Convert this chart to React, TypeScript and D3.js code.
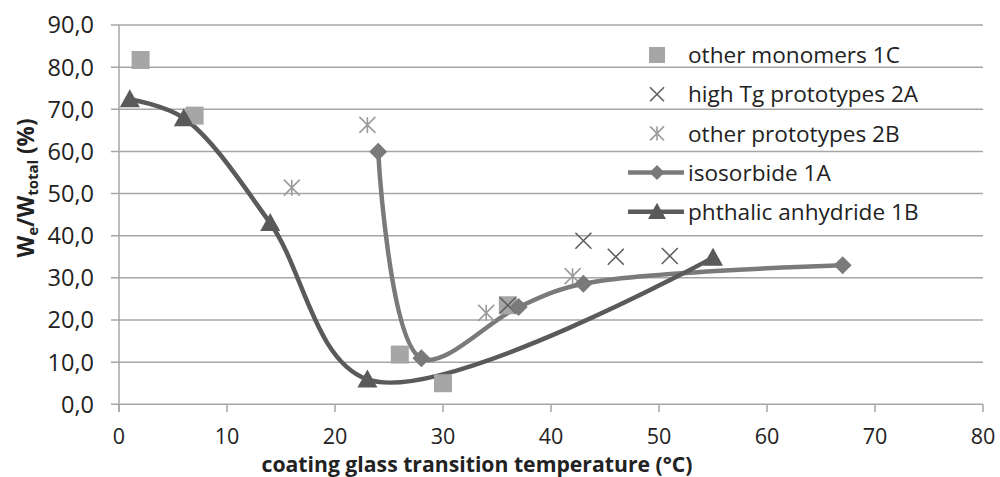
import React from "react";
import * as d3 from "d3";

const xTicks = [0, 10, 20, 30, 40, 50, 60, 70, 80];
const yTicks = [0, 10, 20, 30, 40, 50, 60, 70, 80, 90];

const otherMonomers1C = [
  { x: 2, y: 81.7 },
  { x: 7, y: 68.5 },
  { x: 26, y: 11.8 },
  { x: 30, y: 5.0 },
  { x: 36, y: 23.5 },
];
const highTg2A = [
  { x: 36, y: 23.5 },
  { x: 43, y: 38.8 },
  { x: 46, y: 35.0 },
  { x: 51, y: 35.2 },
];
const otherPrototypes2B = [
  { x: 16, y: 51.4 },
  { x: 23, y: 66.3 },
  { x: 34, y: 21.7 },
  { x: 42, y: 30.4 },
];
const isosorbide1A = [
  { x: 24, y: 59.9 },
  { x: 28, y: 10.9 },
  { x: 37, y: 23.1 },
  { x: 43, y: 28.6 },
  { x: 67, y: 33.0 },
];
const phthalic1B = [
  { x: 1, y: 72.4 },
  { x: 6, y: 67.9 },
  { x: 14, y: 43.0 },
  { x: 23, y: 5.9 },
  { x: 55, y: 34.8 },
];

const legendLabels = [
  "other monomers 1C",
  "high Tg prototypes 2A",
  "other prototypes 2B",
  "isosorbide 1A",
  "phthalic anhydride 1B",
];

const C_SQ = "#a6a6a6";
const C_X = "#5f5f5f";
const C_AST = "#9c9c9c";
const C_ISO = "#7a7a7a";
const C_PHT = "#5a5a5a";
const C_GRID = "#a6a6a6";
const FONT = "'Open Sans', sans-serif";

function Square({ cx, cy, s = 18 }) {
  return <rect x={cx - s / 2} y={cy - s / 2} width={s} height={s} fill={C_SQ} />;
}
function Cross({ cx, cy, s = 16 }) {
  const h = s / 2;
  return (
    <path
      d={`M${cx - h},${cy - h}L${cx + h},${cy + h}M${cx - h},${cy + h}L${cx + h},${cy - h}`}
      stroke={C_X}
      strokeWidth={1.6}
      fill="none"
    />
  );
}
function Asterisk({ cx, cy, s = 16 }) {
  const h = s / 2;
  return (
    <path
      d={`M${cx - h},${cy - h}L${cx + h},${cy + h}M${cx - h},${cy + h}L${cx + h},${cy - h}M${cx},${cy - h}L${cx},${cy + h}`}
      stroke={C_AST}
      strokeWidth={1.6}
      fill="none"
    />
  );
}
function Diamond({ cx, cy, s = 18 }) {
  const h = s / 2;
  return (
    <path
      d={`M${cx},${cy - h}L${cx + h},${cy}L${cx},${cy + h}L${cx - h},${cy}Z`}
      fill={C_ISO}
    />
  );
}
function Triangle({ cx, cy, s = 20 }) {
  const h = s / 2;
  return (
    <path
      d={`M${cx},${cy - h}L${cx + h},${cy + h * 0.8}L${cx - h},${cy + h * 0.8}Z`}
      fill={C_PHT}
    />
  );
}

export default function App() {
  const W = 1000;
  const H = 477;
  const x = d3.scaleLinear().domain([0, 80]).range([119, 983]);
  const y = d3.scaleLinear().domain([0, 90]).range([404.3, 25]);

  const line = d3
    .line<{ x: number; y: number }>()
    .x((d) => x(d.x))
    .y((d) => y(d.y))
    .curve(d3.curveCatmullRom.alpha(0.5));

  const fmt = (v: number) => v.toFixed(1).replace(".", ",");

  const legX = 657;
  const legTextX = 688;
  const legY0 = 55;
  const legDy = 39.2;

  return (
    <svg
      width={W}
      height={H}
      style={{ position: "absolute", left: 0, top: 0 }}
      fontFamily={FONT}
    >
      <rect width={W} height={H} fill="#fff" />
      {/* gridlines */}
      {yTicks.map((t) => (
        <line
          key={"g" + t}
          x1={111}
          x2={983}
          y1={y(t)}
          y2={y(t)}
          stroke={C_GRID}
          strokeWidth={1.5}
        />
      ))}
      {/* y axis line */}
      <line x1={119} x2={119} y1={y(90)} y2={412} stroke={C_GRID} strokeWidth={1.5} />
      {/* x ticks */}
      {xTicks.map((t) => (
        <line
          key={"xt" + t}
          x1={x(t)}
          x2={x(t)}
          y1={y(0)}
          y2={412}
          stroke={C_GRID}
          strokeWidth={1.5}
        />
      ))}
      {/* y tick labels */}
      {yTicks.map((t) => (
        <text
          key={"yl" + t}
          x={94}
          y={y(t)}
          dy="0.36em"
          textAnchor="end"
          fontSize={23.5}
          fill="#222"
        >
          {fmt(t)}
        </text>
      ))}
      {/* x tick labels */}
      {xTicks.map((t) => (
        <text
          key={"xl" + t}
          x={x(t)}
          y={444}
          textAnchor="middle"
          fontSize={21.5}
          fill="#222"
        >
          {t}
        </text>
      ))}
      {/* axis titles */}
      <text
        x={477}
        y={472}
        textAnchor="middle"
        fontSize={21.2}
        fontWeight="bold"
        fill="#222"
      >
        coating glass transition temperature (°C)
      </text>
      <text
        transform={`translate(34,188) rotate(-90)`}
        textAnchor="middle"
        fontSize={22.5}
        fontWeight="bold"
        fill="#222"
      >
        W
        <tspan fontSize={15} dy={4}>e</tspan>
        <tspan dy={-4}>/W</tspan>
        <tspan fontSize={15} dy={4}>total</tspan>
        <tspan dy={-4}> (%)</tspan>
      </text>

      {/* lines */}
      <path d={line(isosorbide1A) || ""} fill="none" stroke={C_ISO} strokeWidth={4.5} />
      <path d={line(phthalic1B) || ""} fill="none" stroke={C_PHT} strokeWidth={4.5} />

      {/* markers */}
      {otherMonomers1C.map((d, i) => (
        <Square key={"s" + i} cx={x(d.x)} cy={y(d.y)} />
      ))}
      {highTg2A.map((d, i) => (
        <Cross key={"c" + i} cx={x(d.x)} cy={y(d.y)} />
      ))}
      {otherPrototypes2B.map((d, i) => (
        <Asterisk key={"a" + i} cx={x(d.x)} cy={y(d.y)} />
      ))}
      {isosorbide1A.map((d, i) => (
        <Diamond key={"d" + i} cx={x(d.x)} cy={y(d.y)} />
      ))}
      {phthalic1B.map((d, i) => (
        <Triangle key={"t" + i} cx={x(d.x)} cy={y(d.y)} />
      ))}

      {/* legend */}
      <Square cx={legX} cy={legY0} s={16} />
      <Cross cx={legX} cy={legY0 + legDy} s={14} />
      <Asterisk cx={legX} cy={legY0 + legDy * 2} s={14} />
      <line x1={628} x2={684} y1={legY0 + legDy * 3} y2={legY0 + legDy * 3} stroke={C_ISO} strokeWidth={4.5} />
      <Diamond cx={legX} cy={legY0 + legDy * 3} s={15} />
      <line x1={628} x2={684} y1={legY0 + legDy * 4} y2={legY0 + legDy * 4} stroke={C_PHT} strokeWidth={4.5} />
      <Triangle cx={legX} cy={legY0 + legDy * 4} s={18} />
      {legendLabels.map((l, i) => (
        <text
          key={"ll" + i}
          x={legTextX}
          y={legY0 + legDy * i}
          dy="0.36em"
          fontSize={22.6}
          fill="#222"
        >
          {l}
        </text>
      ))}
    </svg>
  );
}
